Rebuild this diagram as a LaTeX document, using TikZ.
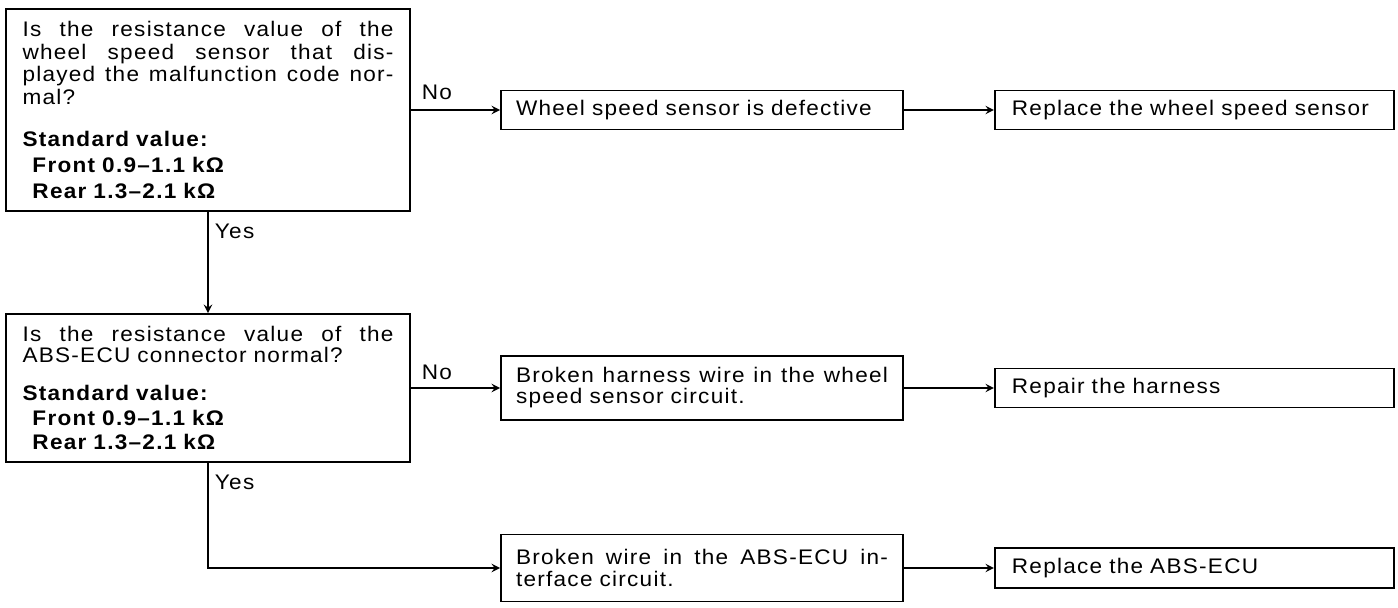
\documentclass[tikz,border=0pt]{standalone}
\usepackage{fontspec}
\setmainfont{Liberation Sans}[FakeStretch=1.07, LetterSpace=6]
\usepackage{tikz}
\usetikzlibrary{arrows, positioning}
\newcommand{\fullline}[1]{\makebox[\hsize][s]{\spaceskip=0pt\xspaceskip=0pt\relax #1}}

\begin{document}
\begin{tikzpicture}[
        question/.style={rectangle, draw=black, line width=1.1pt, minimum width=8.08cm, text width=7.42cm, inner xsep=0.33cm, inner ysep=0pt, align=left, font=\fontsize{12}{12}\selectfont},
        result/.style={rectangle, draw=black, line width=1.1pt, minimum width=8.04cm, text width=7.44cm, inner xsep=0.3cm, inner ysep=0pt, align=left, font=\fontsize{12}{12}\selectfont},
        action/.style={rectangle, draw=black, line width=1.1pt, minimum width=7.98cm, text width=7.3cm, inner xsep=0.34cm, inner ysep=0pt, minimum height=0.78cm, align=left, font=\fontsize{12}{12}\selectfont},
        tag/.style={inner sep=0pt, font=\fontsize{12}{12}\selectfont},
        flow/.style={line width=1.1pt, ->, >=stealth}
    ]
        \useasboundingbox (0,0) rectangle (27.96,-12.16);

        % First check: sensor resistance
        \node[question, minimum height=4.04cm] (sensor) at (4.16,-2.20) {
            \fullline{Is the resistance value of the}\\[1pt]
            \fullline{wheel speed sensor that dis-}\\[1pt]
            \fullline{played the malfunction code nor-}\\[1pt]
            mal?\\[11.5pt]
            {\bfseries Standard value:}\\[3pt]
            {\bfseries\hspace*{0.2cm}Front 0.9–1.1 kΩ}\\[3pt]
            {\bfseries\hspace*{0.2cm}Rear 1.3–2.1 kΩ}
        };
        \node[result, minimum height=0.78cm] (defect) at (14.04,-2.20) {Wheel speed sensor is defective};
        \node[action, right=1.8cm of defect] (replsensor) {Replace the wheel speed sensor};

        % Second check: ABS-ECU connector
        \node[question, minimum height=2.96cm] (ecu) at (4.16,-7.76) {
            \fullline{Is the resistance value of the}\\
            ABS-ECU connector normal?\\[10pt]
            {\bfseries Standard value:}\\[2pt]
            {\bfseries\hspace*{0.2cm}Front 0.9–1.1 kΩ}\\[2pt]
            {\bfseries\hspace*{0.2cm}Rear 1.3–2.1 kΩ}
        };
        \node[result, minimum height=1.28cm] (harness) at (14.04,-7.76) {
            \fullline{Broken harness wire in the wheel}\\
            speed sensor circuit.
        };
        \node[action, right=1.8cm of harness] (repair) {Repair the harness};

        % Last row: interface circuit
        \node[result, minimum height=1.34cm] (iface) at (14.04,-11.36) {
            \fullline{Broken wire in the ABS-ECU in-}\\
            terface circuit.
        };
        \node[action, minimum height=0.8cm, right=1.8cm of iface] (replecu) {Replace the ABS-ECU};

        % No branches
        \draw[flow] (sensor.east) -- node[tag, pos=0, anchor=base west, xshift=0.2cm, yshift=0.2cm] {No} (defect.west);
        \draw[flow] (defect.east) -- (replsensor.west);
        \draw[flow] (ecu.east) -- node[tag, pos=0, anchor=base west, xshift=0.2cm, yshift=0.16cm] {No} (harness.west);
        \draw[flow] (harness.east) -- (repair.west);
        \draw[flow] (iface.east) -- (replecu.west);

        % Yes branches
        \draw[flow] (sensor.south) -- node[tag, pos=0, anchor=north west, xshift=0.12cm, yshift=-0.22cm] {Yes} (ecu.north);
        \draw[flow] (ecu.south) |- node[tag, pos=0, anchor=north west, xshift=0.12cm, yshift=-0.22cm] {Yes} (iface.west);
    \end{tikzpicture}
\end{document}
